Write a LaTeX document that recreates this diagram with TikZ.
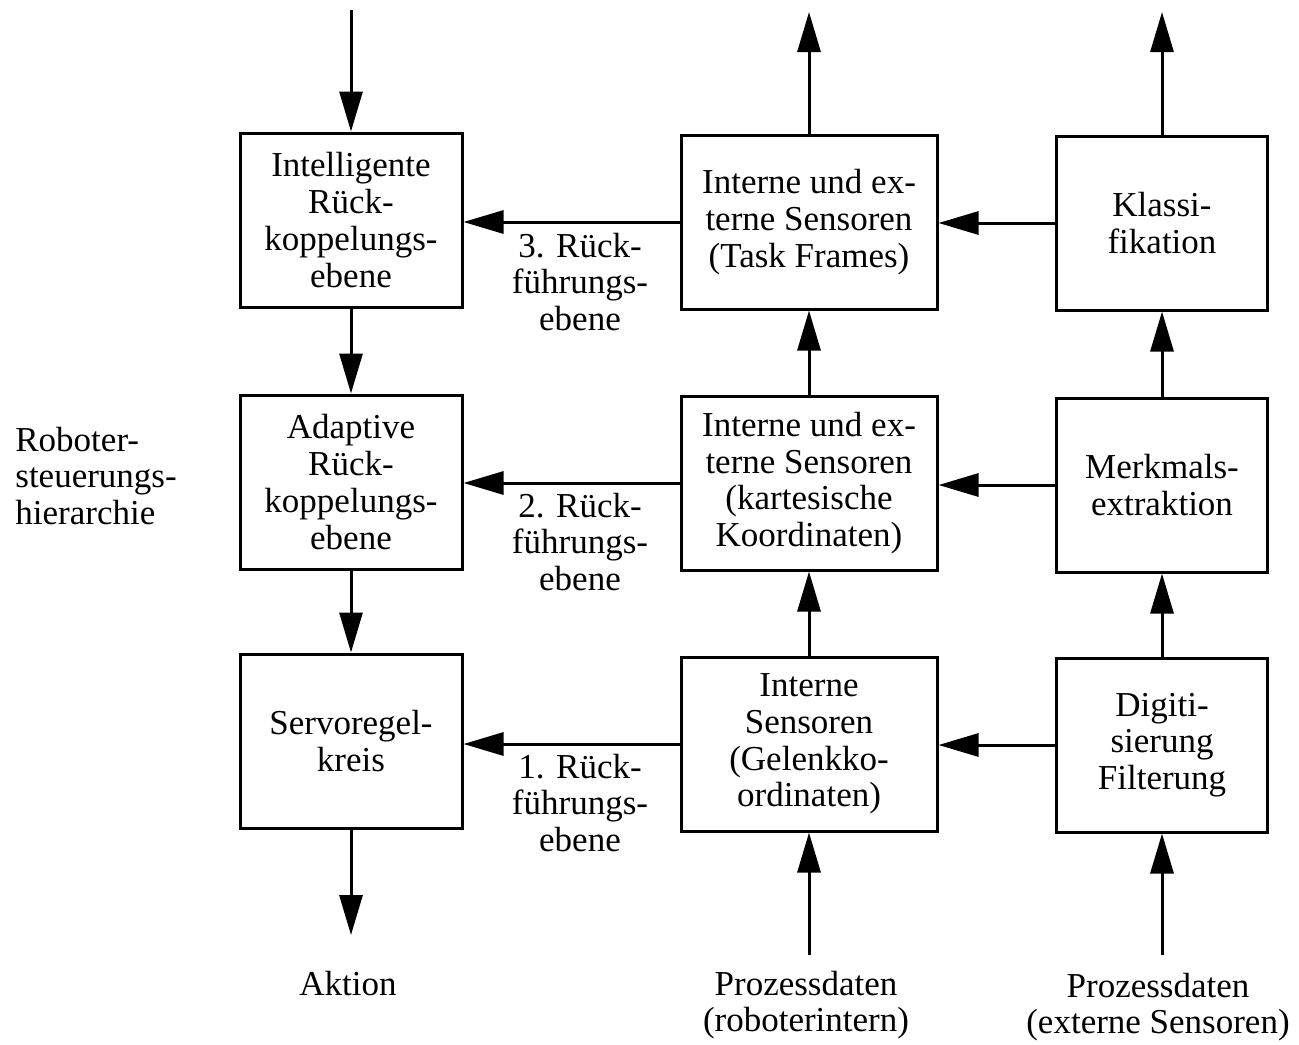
\documentclass[tikz,border=0pt]{standalone}
\usepackage{fontspec}
\setmainfont{Liberation Serif}
\usetikzlibrary{arrows.meta}

\begin{document}
\begin{tikzpicture}[
    x=0.5pt, y=-0.5pt,
    >={Triangle[length=20pt, width=11.5pt]},
    every node/.style={font=\fontsize{17.5}{18.4}\selectfont, align=center},
    ctrlbox/.style={
        draw, line width=1.5pt, minimum height=87pt,
        minimum width=111pt, inner sep=2pt
    },
    sensbox/.style={
        draw, line width=1.5pt, minimum height=87pt,
        minimum width=128pt, inner sep=2pt
    },
    procbox/.style={
        draw, line width=1.5pt, minimum height=87pt,
        minimum width=105.5pt, inner sep=2pt
    },
    flow/.style={->, line width=1.5pt},
    lbl/.style={inner sep=0pt}
]
\useasboundingbox (0,0) rectangle (1299,1044);

% ----------------------------------------------------------
% Linke Spalte: Robotersteuerungshierarchie
% ----------------------------------------------------------
\node[lbl, anchor=west, align=left] (hier) at (15,476)
    {Roboter-\\steuerungs-\\hierarchie};

\node[ctrlbox] (intel) at (351,220) {Intelligente\\Rück-\\koppelungs-\\ebene};
\node[ctrlbox] (adapt) at (351,482) {Adaptive\\Rück-\\koppelungs-\\ebene};
\node[ctrlbox] (servo) at (351,741) {Servoregel-\\kreis};

% ----------------------------------------------------------
% Mittlere Spalte: Sensoren
% ----------------------------------------------------------
\node[sensbox] (task) at (809,222) {Interne und ex-\\terne Sensoren\\(Task Frames)};
\node[sensbox] (kart) at (809,483) {Interne und ex-\\terne Sensoren\\(kartesische\\Koordinaten)};
\node[sensbox] (gelk) at (809,744) {Interne\\Sensoren\\(Gelenkko-\\ordinaten)};

% ----------------------------------------------------------
% Rechte Spalte: Signalverarbeitung
% ----------------------------------------------------------
\node[procbox] (klass) at (1162,223) {Klassi-\\fikation};
\node[procbox] (merk)  at (1162,485) {Merkmals-\\extraktion};
\node[procbox] (digit) at (1162,745) {Digiti-\\sierung\\Filterung};

% Rückführungsebenen
\node[lbl] (rf3) at (580,282) {3. Rück-\\führungs-\\ebene};
\node[lbl] (rf2) at (580,542) {2. Rück-\\führungs-\\ebene};
\node[lbl] (rf1) at (580,803) {1. Rück-\\führungs-\\ebene};

% Ein- und Ausgaenge unten
\node[lbl] (akt) at (348,984) {Aktion};
\node[lbl] (pdint) at (806,1005) {Prozessdaten\\(roboterintern)};
\node[lbl] (pdext) at (1158,1007) {Prozessdaten\\(externe Sensoren)};

\coordinate (cin)   at (351,10);
\coordinate (cout)  at (351,935);
\coordinate (sout)  at (809,12);
\coordinate (kout)  at (1162,12);
\coordinate (gin)   at (809,955);
\coordinate (din)   at (1162,955);

% vertikale Verbindungen
\draw[flow] (cin) -- (intel);
\draw[flow] (intel) -- (adapt);
\draw[flow] (adapt) -- (servo);
\draw[flow] (servo) -- (cout);

\draw[flow] (gin) -- (gelk);
\draw[flow] (gelk) -- (kart);
\draw[flow] (kart) -- (task);
\draw[flow] (task) -- (sout);

\draw[flow] (din) -- (digit);
\draw[flow] (digit) -- (merk);
\draw[flow] (merk) -- (klass);
\draw[flow] (klass) -- (kout);

% horizontale Rückführungen
\draw[flow] (klass.west) -- (task.east |- klass.west);
\draw[flow] (task.west) -- (intel.east |- task.west);
\draw[flow] (merk.west) -- (kart.east |- merk.west);
\draw[flow] (kart.west) -- (adapt.east |- kart.west);
\draw[flow] (digit.west) -- (gelk.east |- digit.west);
\draw[flow] (gelk.west) -- (servo.east |- gelk.west);

\end{tikzpicture}
\end{document}
